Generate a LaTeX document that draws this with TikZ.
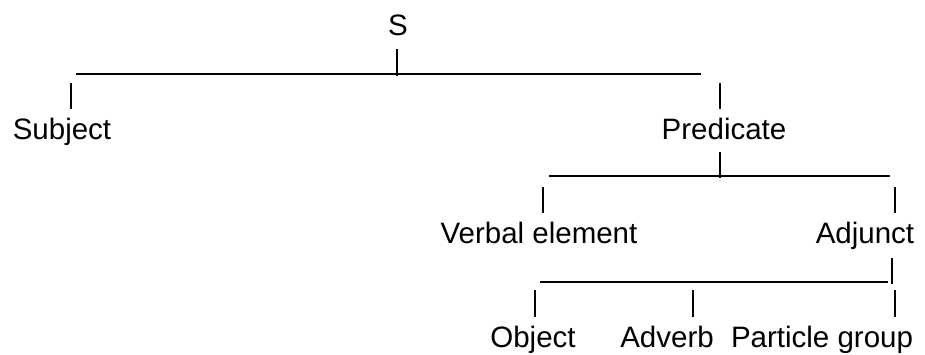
\documentclass[tikz,border=0pt]{standalone}
\usepackage{fontspec}
\setmainfont{Liberation Sans}
\begin{document}
\begin{tikzpicture}[x=1pt,y=-1pt,
  lbl/.style={anchor=base,inner sep=0pt,font=\fontsize{29.5}{32}\selectfont},
  stem/.style={line width=1.8pt},
  bar/.style={line width=1.8pt}]
\useasboundingbox (0,0) rectangle (925,354);
% labels
\node[lbl] (S) at (398,35) {S};
\node[lbl] (subj) at (62,139) {Subject};
\node[lbl] (pred) at (724,139) {Predicate};
\node[lbl] (verb) at (539,243) {Verbal element};
\node[lbl] (adj) at (865,243) {Adjunct};
\node[lbl] (obj) at (533,347) {Object};
\node[lbl] (adv) at (667,347) {Adverb};
\node[lbl] (part) at (822,347) {Particle group};
% joints
\coordinate (sA) at (397,49); \coordinate (sB) at (397,76);
\coordinate (b1L) at (76,74); \coordinate (b1R) at (701,74);
\coordinate (suA) at (71,83); \coordinate (suB) at (71,109);
\coordinate (prA) at (720,83); \coordinate (prB) at (720,109);
\coordinate (pdA) at (720,152); \coordinate (pdB) at (720,178);
\coordinate (b2L) at (549,176); \coordinate (b2R) at (890,176);
\coordinate (veA) at (543,187); \coordinate (veB) at (543,213);
\coordinate (adA) at (895,187); \coordinate (adB) at (895,213);
\coordinate (aaA) at (892,258); \coordinate (aaB) at (892,284);
\coordinate (b3L) at (540,282); \coordinate (b3R) at (888,282);
\coordinate (obA) at (535,290); \coordinate (obB) at (535,317);
\coordinate (avA) at (693,290); \coordinate (avB) at (693,317);
\coordinate (ptA) at (895,290); \coordinate (ptB) at (895,317);
% connectors
\draw[stem] (sA) -- (sB);
\draw[bar] (b1L) -- (b1R);
\draw[stem] (suA) -- (suB);
\draw[stem] (prA) -- (prB);
\draw[stem] (pdA) -- (pdB);
\draw[bar] (b2L) -- (b2R);
\draw[stem] (veA) -- (veB);
\draw[stem] (adA) -- (adB);
\draw[stem] (aaA) -- (aaB);
\draw[bar] (b3L) -- (b3R);
\draw[stem] (obA) -- (obB);
\draw[stem] (avA) -- (avB);
\draw[stem] (ptA) -- (ptB);
\end{tikzpicture}
\end{document}
